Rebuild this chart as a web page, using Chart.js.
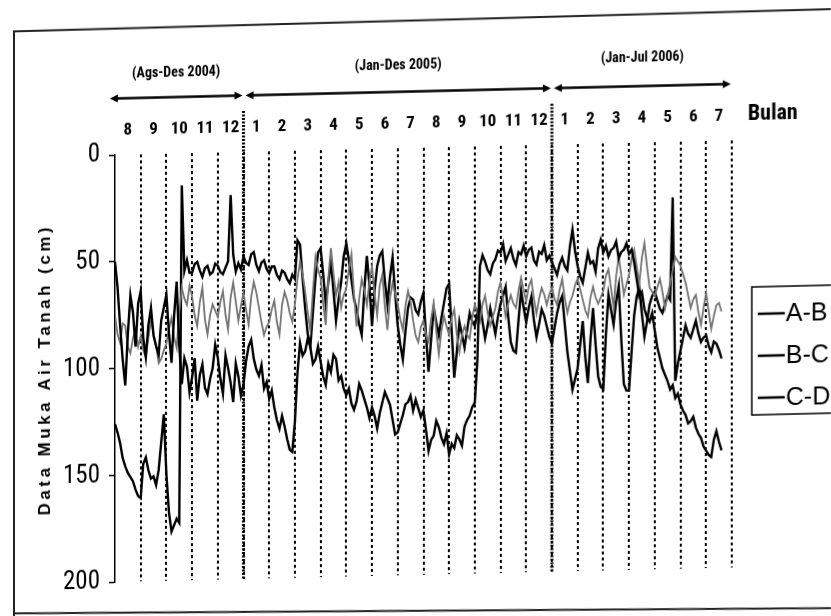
<!DOCTYPE html>
<html>
<head>
<meta charset="utf-8">
<script src="https://cdn.jsdelivr.net/npm/chart.js@4.4.1/dist/chart.umd.min.js"></script>
<style>
  html, body { margin: 0; padding: 0; background: #fff; overflow: hidden; width: 831px; height: 616px; }
  /* the scanned page is slightly sheared */
  #wrap { position: absolute; left: 0; top: 0; width: 831px; height: 640px; transform: skewY(-1.35deg); transform-origin: 115px 0; }
</style>
</head>
<body>
<div id="wrap"><canvas id="c" width="831" height="640"></canvas></div>
<script>
// Groundwater level, Aug 2004 - Jul 2006, one reading every 0.1 month
const step = 0.1;
const monthLabels = ['8', '9', '10', '11', '12', '1', '2', '3', '4', '5', '6', '7', '8', '9', '10', '11', '12', '1', '2', '3', '4', '5', '6', '7'];
const monthEdges = [1, 2, 3, 4, 5, 6, 7, 8, 9, 10, 11, 12, 13, 14, 15, 16, 17, 18, 19, 20, 21, 22, 23, 24];
const yearEdges = [5, 17];
const periodNames = ['(Ags-Des 2004)', '(Jan-Des 2005)', '(Jan-Jul 2006)'];
const periodFrom = [-0.2, 5, 17];
const periodTo = [5, 17, 24];
const yTicks = [0, 50, 100, 150, 200];
const yTitle = 'Data Muka Air Tanah (cm)';
const xTitle = 'Bulan';

// one row per month (Aug 2004 ... Jul 2006)
const seriesAB = [
  50, 62, 80, 96, 108, 84, 66, 74, 90, 70,
  64, 86, 95, 80, 72, 85, 90, 94, 78, 72,
  66, 84, 98, 76, 60, 90, 108, 96, 100, 112,
  105, 96, 116, 104, 99, 110, 113, 106, 101, 90,
  96, 106, 113, 95, 101, 108, 117, 99, 105, 114,
  109, 98, 91, 88, 97, 102, 105, 100, 111, 108,
  116, 112, 120, 126, 130, 124, 129, 135, 140, 141,
  127, 104, 90, 96, 94, 88, 92, 100, 98, 92,
  99, 106, 110, 100, 104, 96, 98, 108, 106, 112,
  115, 112, 119, 122, 118, 110, 113, 117, 121, 126,
  121, 125, 131, 124, 119, 114, 117, 120, 127, 134,
  133, 129, 125, 120, 119, 116, 123, 118, 122, 126,
  123, 132, 142, 137, 135, 128, 131, 136, 139, 134,
  144, 139, 141, 135, 137, 140, 131, 128, 126, 122,
  120, 100, 56, 51, 54, 58, 60, 55, 53, 49,
  50, 46, 54, 51, 48, 53, 56, 50, 51, 47,
  52, 49, 48, 54, 56, 50, 51, 47, 54, 52,
  55, 58, 61, 56, 53, 57, 59, 48, 40, 50,
  57, 62, 65, 58, 51, 56, 55, 60, 49, 45,
  51, 48, 53, 50, 49, 46, 54, 51, 50, 47,
  52, 50, 56, 64, 72, 70, 78, 82, 84, 80,
  88, 96, 101, 106, 109, 112, 116, 114, 120, 118,
  123, 126, 128, 132, 131, 129, 134, 137, 139, 143,
  145, 147, 148, 140, 136, 141, 145
];
const seriesBC = [
  75, 84, 88, 79, 80, 90, 93, 86, 82, 90,
  85, 92, 95, 86, 78, 84, 90, 98, 96, 92,
  89, 82, 77, 86, 91, 74, 63, 68, 71, 62,
  67, 76, 81, 70, 63, 78, 85, 76, 71, 74,
  77, 70, 65, 76, 83, 68, 61, 70, 79, 72,
  66, 74, 81, 68, 61, 66, 73, 80, 86, 82,
  80, 74, 70, 80, 86, 72, 66, 70, 76, 80,
  72, 60, 52, 58, 66, 76, 84, 66, 50, 56,
  60, 72, 82, 60, 46, 58, 68, 62, 74, 68,
  65, 56, 49, 68, 83, 70, 61, 66, 73, 62,
  55, 68, 78, 64, 59, 74, 85, 70, 63, 68,
  73, 80, 85, 74, 67, 72, 81, 88, 91, 84,
  81, 88, 91, 80, 73, 86, 97, 86, 79, 84,
  88, 80, 76, 88, 96, 88, 84, 88, 90, 80,
  74, 78, 82, 74, 70, 78, 84, 80, 76, 68,
  64, 72, 80, 74, 70, 74, 76, 68, 62, 68,
  73, 66, 63, 72, 79, 72, 67, 70, 75, 70,
  67, 72, 75, 68, 63, 72, 79, 74, 71, 66,
  63, 68, 73, 78, 81, 72, 67, 72, 75, 72,
  69, 62, 59, 68, 77, 62, 53, 62, 71, 66,
  62, 54, 50, 58, 66, 54, 47, 58, 68, 70,
  72, 68, 64, 70, 78, 72, 66, 60, 54, 56,
  58, 62, 66, 72, 78, 74, 72, 80, 86, 78,
  71, 80, 88, 82, 77, 76, 80
];
const seriesCD = [
  126, 130, 135, 142, 146, 149, 151, 153, 157, 160,
  161, 145, 142, 148, 152, 151, 155, 148, 135, 122,
  150, 168, 177, 174, 171, 173, 15, 55, 50, 56,
  56, 52, 51, 55, 58, 54, 53, 57, 56, 52,
  53, 56, 57, 54, 51, 20, 48, 56, 52, 55,
  49, 52, 53, 48, 47, 53, 56, 52, 51, 55,
  57, 54, 54, 58, 60, 56, 57, 60, 62, 58,
  60, 42, 44, 60, 74, 86, 92, 76, 60, 48,
  46, 58, 72, 62, 52, 66, 80, 70, 62, 50,
  44, 52, 61, 70, 75, 82, 87, 66, 50, 64,
  83, 66, 55, 50, 48, 62, 73, 60, 51, 68,
  83, 92, 99, 86, 75, 70, 71, 76, 78, 72,
  68, 88, 105, 90, 75, 82, 88, 80, 73, 66,
  64, 86, 108, 96, 82, 88, 94, 86, 78, 82,
  84, 78, 74, 82, 90, 84, 76, 82, 88, 80,
  74, 70, 66, 80, 92, 96, 97, 82, 68, 76,
  83, 76, 71, 82, 90, 84, 77, 80, 85, 90,
  93, 86, 79, 74, 71, 84, 97, 106, 115, 110,
  105, 94, 83, 100, 112, 92, 77, 94, 109, 114,
  115, 90, 71, 78, 85, 74, 67, 92, 113, 116,
  116, 98, 81, 72, 68, 80, 91, 84, 76, 72,
  70, 74, 78, 80, 76, 72, 74, 26, 112, 104,
  98, 92, 86, 90, 92, 88, 84, 90, 94, 92,
  91, 96, 99, 94, 95, 98, 102
];

const NARROW = '"Roboto Condensed", "DejaVu Sans Condensed", sans-serif';
const SANS = '"Liberation Sans", Arial, sans-serif';

const toPoints = arr => arr.map((v, i) => ({ x: i * step, y: v }));

function arrow(ctx, x1, x2, y) {
  ctx.beginPath(); ctx.moveTo(x1 + 5, y); ctx.lineTo(x2 - 5, y); ctx.stroke();
  ctx.beginPath(); ctx.moveTo(x1, y); ctx.lineTo(x1 + 8, y - 4); ctx.lineTo(x1 + 8, y + 4); ctx.closePath(); ctx.fill();
  ctx.beginPath(); ctx.moveTo(x2, y); ctx.lineTo(x2 - 8, y - 4); ctx.lineTo(x2 - 8, y + 4); ctx.closePath(); ctx.fill();
}

const decor = {
  id: 'decor',
  // heavy dotted year separators, under the lines
  beforeDatasetsDraw(chart) {
    const { ctx, chartArea: a, scales: { x } } = chart;
    ctx.save();
    ctx.strokeStyle = '#000';
    ctx.lineWidth = 3;
    ctx.setLineDash([2, 1.5]);
    yearEdges.forEach(v => {
      const px = x.getPixelForValue(v);
      ctx.beginPath(); ctx.moveTo(px, 114); ctx.lineTo(px, a.bottom); ctx.stroke();
    });
    ctx.restore();
  },
  afterDraw(chart) {
    const { ctx, scales: { x } } = chart;
    ctx.save();
    // scanned page frame
    ctx.strokeStyle = '#222'; ctx.lineWidth = 2;
    ctx.beginPath(); ctx.moveTo(14, 640); ctx.lineTo(14, 29); ctx.lineTo(831, 26); ctx.stroke();
    ctx.beginPath(); ctx.moveTo(14, 611); ctx.lineTo(831, 625); ctx.stroke();

    // period arrows and names
    ctx.strokeStyle = '#000'; ctx.fillStyle = '#000'; ctx.lineWidth = 2.5;
    const nameY = [74, 72, 70];
    periodNames.forEach((name, i) => {
      const x1 = x.getPixelForValue(periodFrom[i]) + (i ? 2 : 0);
      const x2 = x.getPixelForValue(periodTo[i]) - 1;
      arrow(ctx, x1, x2, 98.5);
      ctx.font = 'bold 14px ' + NARROW;
      ctx.textAlign = 'center'; ctx.textBaseline = 'middle';
      ctx.fillText(name, (x1 + x2) / 2, nameY[i]);
    });

    // "Bulan"
    ctx.font = 'bold 22px ' + NARROW;
    ctx.textAlign = 'left'; ctx.textBaseline = 'middle';
    ctx.fillText(xTitle, 748, 129);

    // y title, letter spaced
    ctx.save();
    ctx.translate(45, 368);
    ctx.rotate(-Math.PI / 2);
    ctx.font = 'bold 17px ' + SANS;
    ctx.letterSpacing = '3.5px';
    ctx.textAlign = 'center'; ctx.textBaseline = 'middle';
    ctx.fillText(yTitle, 0, 0);
    ctx.restore();

    // legend box, runs off the right edge
    ctx.lineWidth = 1.5; ctx.strokeStyle = '#000';
    ctx.strokeRect(752, 302, 120, 128);
    ctx.font = '25px ' + SANS;
    ctx.textAlign = 'left'; ctx.textBaseline = 'middle';
    chart.data.datasets.forEach((ds, i) => {
      const yy = 329 + i * 42;
      ctx.lineWidth = 2.5;
      ctx.beginPath(); ctx.moveTo(758, yy); ctx.lineTo(785, yy); ctx.stroke();
      ctx.fillText(ds.label, 786, yy + 1);
    });
    ctx.restore();
  }
};

new Chart(document.getElementById('c'), {
  type: 'line',
  data: {
    datasets: [
      { label: 'A-B', data: toPoints(seriesAB), borderColor: '#000', borderWidth: 2.4 },
      { label: 'B-C', data: toPoints(seriesBC), borderColor: '#747474', borderWidth: 1.8 },
      { label: 'C-D', data: toPoints(seriesCD), borderColor: '#000', borderWidth: 2.4 },
    ],
  },
  options: {
    responsive: false,
    animation: false,
    devicePixelRatio: 1,
    elements: { point: { radius: 0 }, line: { tension: 0 } },
    layout: { padding: { left: 0, right: 99, top: 0, bottom: 0 } },
    plugins: { legend: { display: false }, tooltip: { enabled: false } },
    scales: {
      x: {
        type: 'linear', position: 'bottom', min: 0, max: 24,
        afterBuildTicks: s => { s.ticks = monthEdges.map(v => ({ value: v })); },
        afterFit: s => { s.height = 58; },
        ticks: { display: false },
        grid: { color: '#000', lineWidth: 2, drawTicks: false },
        border: { display: false, dash: [3, 3] },
      },
      xTop: {
        type: 'linear', position: 'top', min: 0, max: 24,
        afterBuildTicks: s => { s.ticks = monthEdges.map(v => ({ value: v - 0.5 })); },
        afterFit: s => { s.height = 155; },
        ticks: {
          callback: (v, i) => monthLabels[i],
          autoSkip: false, maxRotation: 0, padding: 14,
          color: '#000', font: { family: NARROW, size: 17, weight: 'bold' },
        },
        grid: { display: false, drawTicks: false },
        border: { display: false },
      },
      y: {
        reverse: true, min: 0, max: 200,
        afterBuildTicks: s => { s.ticks = yTicks.map(v => ({ value: v })); },
        afterFit: s => { s.width = 115; },
        ticks: { color: '#000', padding: 9, font: { family: NARROW, size: 25 } },
        grid: { drawOnChartArea: false, drawTicks: true, tickLength: 6, tickColor: '#000', tickWidth: 1.5 },
        border: { display: true, color: '#000', width: 1.5 },
      },
    },
  },
  plugins: [decor],
});
</script>
</body>
</html>
